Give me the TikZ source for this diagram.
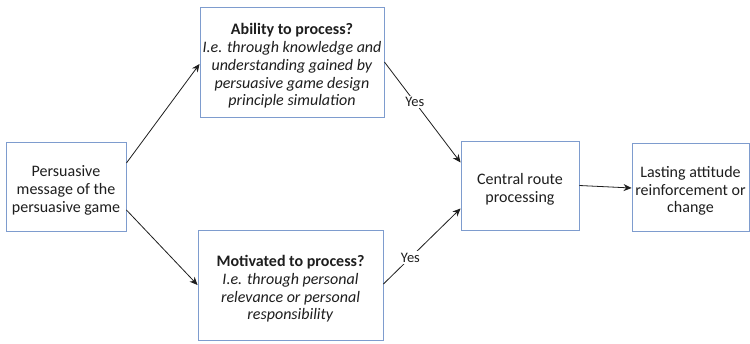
\documentclass[tikz,border=0pt]{standalone}
\usepackage{fontspec}
\setmainfont{Carlito}
\usetikzlibrary{arrows.meta}
\definecolor{boxblue}{RGB}{126,156,206}
\definecolor{ink}{RGB}{30,30,30}
% tall invisible strut that lowers the text block a little inside each box
\newcommand{\topgap}{\rule{0pt}{19pt}}
\tikzset{
  stagebox/.style={draw=boxblue, line width=0.9pt, fill=white, align=center,
    text=ink, font=\fontsize{16}{17.8}\selectfont, inner sep=2pt},
  flow/.style={draw=ink, line width=0.8pt, -{Stealth[length=8pt,width=7pt]}},
  yeslabel/.style={fill=white, text=ink, font=\fontsize{14.5}{16}\selectfont, inner sep=1.5pt}
}
\begin{document}
\begin{tikzpicture}[x=1pt, y=-1pt]
  \useasboundingbox (0,0) rectangle (750,343);

  % stages of the route
  \node[stagebox, minimum width=120pt, minimum height=89pt] (msg) at (66,186.5)
    {\topgap Persuasive\\message of the\\persuasive game};
  \node[stagebox, minimum width=184pt, minimum height=110pt] (ability) at (292,62)
    {\topgap\textbf{Ability to process?}\\\textit{I.e. through knowledge and}\\\textit{understanding gained by}\\\textit{persuasive game design}\\\textit{principle simulation}};
  \node[stagebox, minimum width=185pt, minimum height=110pt] (motive) at (290.5,285)
    {\topgap\textbf{Motivated to process?}\\\textit{I.e. through personal}\\\textit{relevance or personal}\\\textit{responsibility}};
  \node[stagebox, minimum width=118pt, minimum height=89pt] (central) at (520,185.5)
    {\topgap Central route\\processing};
  \node[stagebox, minimum width=117pt, minimum height=88pt] (lasting) at (690.5,187)
    {\topgap Lasting attitude\\reinforcement or\\change};

  % connectors
  \draw[flow] ([yshift=23.5pt]msg.east) -- ([yshift=-2pt]ability.west);
  \draw[flow] ([yshift=-23.5pt]msg.east) -- (motive.west);
  \draw[flow] (ability.east) -- node[yeslabel, pos=0.4] {Yes} ([yshift=23pt]central.west);
  \draw[flow] ([yshift=1pt]motive.east) -- node[yeslabel, pos=0.35] {Yes} ([yshift=-23pt]central.west);
  \draw[flow] (central.east) -- ([yshift=-1pt]lasting.west);
\end{tikzpicture}
\end{document}
